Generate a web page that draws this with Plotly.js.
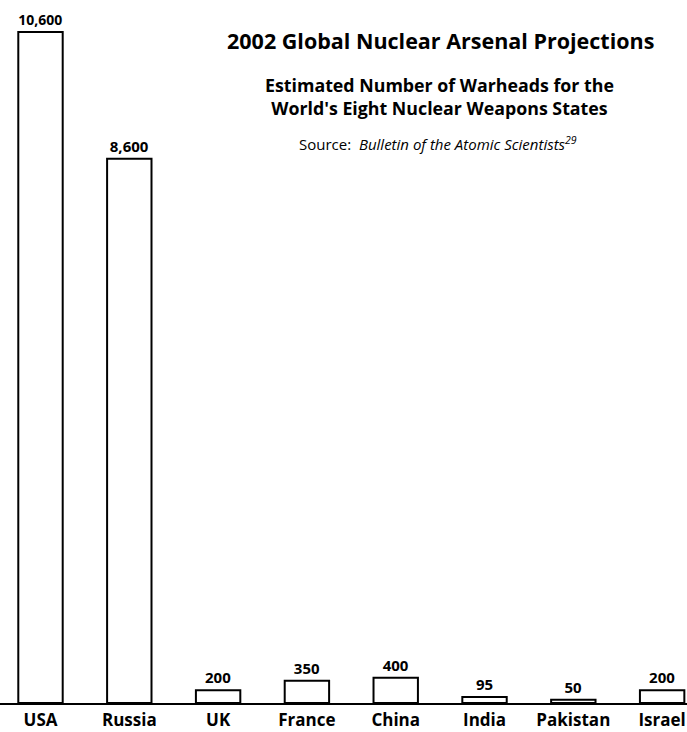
<!DOCTYPE html>
<html>
<head>
<meta charset="utf-8">
<script src="https://cdn.plot.ly/plotly-3.0.1.min.js"></script>
<style>html,body{margin:0;padding:0;background:#fff;}#chart{width:687px;height:732px;}</style>
</head>
<body>
<div id="chart"></div>
<script>
const countries = ["USA", "Russia", "UK", "France", "China", "India", "Pakistan", "Israel"];
const warheads = [10600, 8600, 200, 350, 400, 95, 50, 200];
const valueLabels = ["10,600", "8,600", "200", "350", "400", "95", "50", "200"];

const FONT = "'Open Sans', sans-serif";
const H = 703; // plot area height in px (top margin 0)
const py = p => (H - p) / H;

const trace = {
  type: "bar",
  x: countries,
  y: warheads,
  text: valueLabels,
  textposition: "outside",
  cliponaxis: false,
  textfont: {family: FONT, size: 15, color: "#000", weight: "bold"},
  marker: {color: "#fff", line: {color: "#000", width: 2}},
  hoverinfo: "x+y"
};

const layout = {
  width: 687, height: 732,
  margin: {l: 0, r: 0, t: 0, b: 29},
  paper_bgcolor: "#fff", plot_bgcolor: "#fff",
  bargap: 0.5,
  showlegend: false,
  font: {family: FONT, color: "#000"},
  xaxis: {
    range: [-0.456, 7.28],
    showline: true, linecolor: "#000", linewidth: 2,
    showgrid: false, zeroline: false, ticks: "",
    ticklabelstandoff: 1,
    tickfont: {family: FONT, size: 17, color: "#000", weight: "bold"},
    fixedrange: true
  },
  yaxis: {
    range: [0, 11106],
    visible: false, showgrid: false, zeroline: false,
    fixedrange: true
  },
  annotations: [
    {text: "<b>2002 Global Nuclear Arsenal Projections</b>", showarrow: false,
     xref: "paper", yref: "paper", x: 440/687, y: py(40), xanchor: "center", yanchor: "middle",
     font: {family: FONT, size: 21.5, color: "#000"}},
    {text: "<b>Estimated Number of Warheads for the<br>World's Eight Nuclear Weapons States</b>", showarrow: false,
     xref: "paper", yref: "paper", x: 439/687, y: py(96), xanchor: "center", yanchor: "middle",
     font: {family: FONT, size: 17.8, color: "#000"}},
    {text: "Source:  <i>Bulletin of the Atomic Scientists<sup>29</sup></i>", showarrow: false,
     xref: "paper", yref: "paper", x: 438/687, y: py(143), xanchor: "center", yanchor: "middle",
     font: {family: FONT, size: 15, color: "#000"}}
  ]
};

Plotly.newPlot("chart", [trace], layout, {displayModeBar: false, staticPlot: true});
</script>
</body>
</html>
